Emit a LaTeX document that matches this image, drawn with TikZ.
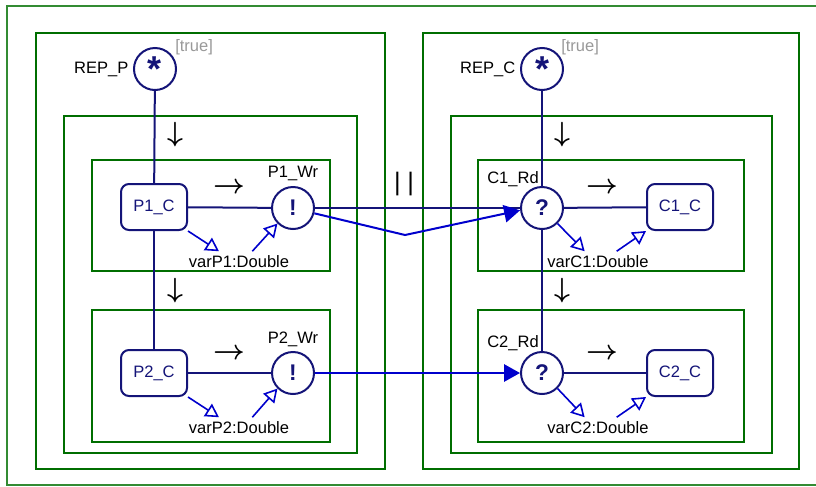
\documentclass[tikz,border=0pt]{standalone}
\usepackage{fontspec}
\setmainfont{Liberation Sans}
\usetikzlibrary{arrows.meta}
\definecolor{navy}{RGB}{20,20,120}
\definecolor{linkblue}{RGB}{0,0,204}
\definecolor{boxgreen}{RGB}{0,110,0}

\begin{document}
\begin{tikzpicture}[x=0.75pt, y=-0.75pt, font=\fontsize{12.4}{14}\selectfont,
  frame/.style={draw=boxgreen, line width=1.5pt},
  seq/.style={draw=navy, line width=1.5pt},
  chan/.style={draw=linkblue, line width=1.5pt, -{Triangle[length=12pt, width=13pt]}},
  varflow/.style={draw=linkblue, line width=1.2pt, -{Triangle[open, length=10pt, width=11pt]}},
  act/.style={circle, draw=navy, line width=1.5pt, fill=white, minimum size=31.5pt, inner sep=0pt, text=navy, font=\fontsize{17}{17}\selectfont\bfseries},
  comp/.style={rectangle, rounded corners=6pt, draw=navy, line width=1.5pt, fill=white, minimum width=49.5pt, minimum height=34.5pt, text=navy},
  guard/.style={text=gray!80, anchor=west, inner sep=0pt},
  flow/.style={font=\fontsize{22}{22}\selectfont\boldmath, inner sep=0pt}]
  \useasboundingbox (0,0) rectangle (816,486);
  \draw[draw=boxgreen!80, line width=1.2pt] (840,6) -- (7,6) -- (7,485) -- (840,485);
  \draw[frame] (36,33) rectangle (385,469);
  \draw[frame] (64,116) rectangle (357,453);
  \draw[frame] (92,160) rectangle (330,271);
  \draw[frame] (92,310) rectangle (330,442);
  \draw[frame] (423,33) rectangle (799,469);
  \draw[frame] (451,116) rectangle (772,453);
  \draw[frame] (478,160) rectangle (744,271);
  \draw[frame] (478,310) rectangle (744,442);

  \node[act] (repP) at (155,69) {\raisebox{-0.35ex}{\fontsize{27}{27}\selectfont *}};
  \node[anchor=east] (repPname) at (repP.west) {REP\_P};
  \node[guard] (repPguard) at (175,47) {[true]};
  \node[flow] (p1down) at (175,135) {$\downarrow$};
  \node[comp] (p1c) at (154,207) {P1\_C};
  \node[act] (p1w) at (293,208) {!};
  \node (p1wname) at (293,173) {P1\_Wr};
  \node[flow] (p1next) at (229,188) {$\rightarrow$};
  \node (varp1) at (239,262) {varP1:Double};
  \node[flow] (p2down) at (175,291) {$\downarrow$};
  \node[comp] (p2c) at (154,373) {P2\_C};
  \node[act] (p2w) at (293,373) {!};
  \node (p2wname) at (293,339) {P2\_Wr};
  \node[flow] (p2next) at (229,354) {$\rightarrow$};
  \node (varp2) at (239,428) {varP2:Double};

  \node[act] (repC) at (542,69) {\raisebox{-0.35ex}{\fontsize{27}{27}\selectfont *}};
  \node[anchor=east] (repCname) at (repC.west) {REP\_C};
  \node[guard] (repCguard) at (561,47) {[true]};
  \node[flow] (c1down) at (562,135) {$\downarrow$};
  \node[act] (c1r) at (542,208) {?};
  \node (c1rname) at (513,179) {C1\_Rd};
  \node[comp] (c1c) at (680,207) {C1\_C};
  \node[flow] (c1next) at (602,188) {$\rightarrow$};
  \node (varc1) at (598,262) {varC1:Double};
  \node[flow] (c2down) at (562,291) {$\downarrow$};
  \node[act] (c2r) at (542,373) {?};
  \node (c2rname) at (513,343) {C2\_Rd};
  \node[comp] (c2c) at (680,373) {C2\_C};
  \node[flow] (c2next) at (602,354) {$\rightarrow$};
  \node (varc2) at (598,428) {varC2:Double};

  \node[font=\fontsize{19}{19}\selectfont] (par) at (404,184) {|\hspace{5pt}|};
  \coordinate (bend) at (405,235);

  \draw[seq] (repP) -- (p1c);
  \draw[seq] (p1c) -- (p2c);
  \draw[seq] (p1c) -- (p1w);
  \draw[seq] (p2c) -- (p2w);
  \draw[seq] (repC) -- (c1r);
  \draw[seq] (c1r) -- (c2r);
  \draw[seq] (c1r) -- (c1c);
  \draw[seq] (c2r) -- (c2c);
  \draw[seq] (p1w) -- (c1r);
  \draw[chan] (p1w.-14) -- (bend) -- (c1r.186);
  \draw[chan] (p2w) -- (c2r);

  \draw[varflow] (p1c.south east) -- ([xshift=-15pt]varp1.north);
  \draw[varflow] ([xshift=10pt]varp1.north) -- (p1w.south west);
  \draw[varflow] (p2c.south east) -- ([xshift=-15pt]varp2.north);
  \draw[varflow] ([xshift=10pt]varp2.north) -- (p2w.south west);
  \draw[varflow] (c1r.south east) -- ([xshift=-10pt]varc1.north);
  \draw[varflow] ([xshift=14pt]varc1.north) -- (c1c.south west);
  \draw[varflow] (c2r.south east) -- ([xshift=-10pt]varc2.north);
  \draw[varflow] ([xshift=14pt]varc2.north) -- (c2c.south west);
\end{tikzpicture}
\end{document}
